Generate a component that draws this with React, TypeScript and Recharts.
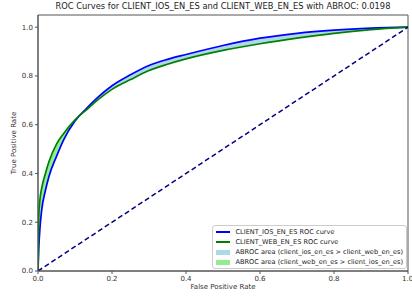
import {
  ComposedChart,
  Line,
  Area,
  XAxis,
  YAxis,
  ReferenceArea,
} from "recharts";

const fpr = [0, 0.002, 0.005, 0.01, 0.02, 0.03, 0.05, 0.07, 0.1, 0.13, 0.16, 0.2, 0.25, 0.3, 0.35, 0.4, 0.5, 0.6, 0.7, 0.8, 0.9, 1.0];
const iosTpr = [0, 0.09, 0.17, 0.25, 0.33, 0.39, 0.47, 0.54, 0.615, 0.665, 0.71, 0.76, 0.805, 0.843, 0.868, 0.888, 0.925, 0.955, 0.975, 0.988, 0.996, 1.0];
const webTpr = [0, 0.22, 0.29, 0.34, 0.4, 0.45, 0.52, 0.565, 0.62, 0.66, 0.70, 0.745, 0.785, 0.822, 0.848, 0.87, 0.905, 0.932, 0.955, 0.975, 0.99, 1.0];
const chanceX = [0, 1];
const chanceY = [0, 1];
const ticks = [0, 0.2, 0.4, 0.6, 0.8, 1.0];

const data = fpr.map((x, i) => {
  const ios = iosTpr[i];
  const web = webTpr[i];
  return {
    fpr: x,
    ios,
    web,
    iosArea: [web, Math.max(ios, web)],
    webArea: [ios, Math.max(ios, web)],
  };
});

const chance = chanceX.map((x, i) => ({ fpr: x, chance: chanceY[i] }));

const FONT = "DejaVu Sans, sans-serif";

const legendItems = [
  { label: "CLIENT_IOS_EN_ES ROC curve", color: "#0000ff", kind: "line" },
  { label: "CLIENT_WEB_EN_ES ROC curve", color: "#008000", kind: "line" },
  { label: "ABROC area (client_ios_en_es > client_web_en_es)", color: "#add8e6", kind: "box" },
  { label: "ABROC area (client_web_en_es > client_ios_en_es)", color: "#90ee90", kind: "box" },
];

function RocLegend() {
  return (
    <div
      style={{
        position: "absolute",
        right: 5,
        top: 225,
        border: "1px solid #ccc",
        borderRadius: 3,
        background: "rgba(255,255,255,0.8)",
        padding: "1px 3px 1px 3px",
        fontFamily: FONT,
        fontSize: 6.6,
        color: "#222",
      }}
    >
      {legendItems.map((it) => (
        <div key={it.label} style={{ display: "flex", alignItems: "center", height: 10 }}>
          <span style={{ width: 14, marginRight: 5, display: "inline-block" }}>
            {it.kind === "line" ? (
              <span style={{ display: "block", height: 1.6, background: it.color }} />
            ) : (
              <span style={{ display: "block", height: 5, background: it.color }} />
            )}
          </span>
          <span style={{ whiteSpace: "nowrap" }}>{it.label}</span>
        </div>
      ))}
    </div>
  );
}

export default function App() {
  return (
    <div style={{ position: "absolute", left: 0, top: 0, width: 412, height: 299, background: "#fff" }}>
      <div
        style={{
          position: "absolute",
          top: 1,
          left: 0,
          width: 446,
          textAlign: "center",
          fontFamily: FONT,
          fontSize: 8.3,
          color: "#222",
        }}
      >
        ROC Curves for CLIENT_IOS_EN_ES and CLIENT_WEB_EN_ES with ABROC: 0.0198
      </div>
      <ComposedChart
        width={412}
        height={299}
        data={data}
        margin={{ top: 15, right: 4, bottom: 12, left: 10 }}
        style={{ fontFamily: FONT }}
      >
        <XAxis
          dataKey="fpr"
          type="number"
          domain={[0, 1]}
          ticks={ticks}
          tickFormatter={(v: number) => v.toFixed(1)}
          allowDataOverflow
          height={16}
          tick={{ fontSize: 7, fill: "#333" }}
          tickSize={3}
          stroke="#555"
          label={{ value: "False Positive Rate", position: "bottom", offset: -3, fontSize: 7, fill: "#333" }}
        />
        <YAxis
          type="number"
          domain={[0, 1.05]}
          ticks={ticks}
          tickFormatter={(v: number) => v.toFixed(1)}
          allowDataOverflow
          width={28}
          tick={{ fontSize: 7, fill: "#333" }}
          tickSize={3}
          stroke="#555"
          label={{ value: "True Positive Rate", angle: -90, position: "insideLeft", offset: 4, fontSize: 7, fill: "#333", style: { textAnchor: "middle" } }}
        />
        <ReferenceArea x1={0} x2={1} y1={0} y2={1.05} fill="none" stroke="#555" strokeWidth={1} ifOverflow="visible" />
        <Area
          dataKey="iosArea"
          type="monotone"
          stroke="none"
          fill="#add8e6"
          fillOpacity={1}
          isAnimationActive={false}
        />
        <Area
          dataKey="webArea"
          type="monotone"
          stroke="none"
          fill="#90ee90"
          fillOpacity={1}
          isAnimationActive={false}
        />
        <Line dataKey="ios" type="monotone" stroke="#0000ff" strokeWidth={1.7} dot={false} isAnimationActive={false} />
        <Line dataKey="web" type="monotone" stroke="#008000" strokeWidth={1.7} dot={false} isAnimationActive={false} />
        <Line
          data={chance}
          dataKey="chance"
          type="linear"
          stroke="#000080"
          strokeWidth={1.5}
          strokeDasharray="5 3"
          dot={false}
          isAnimationActive={false}
        />
      </ComposedChart>
      <RocLegend />
    </div>
  );
}
